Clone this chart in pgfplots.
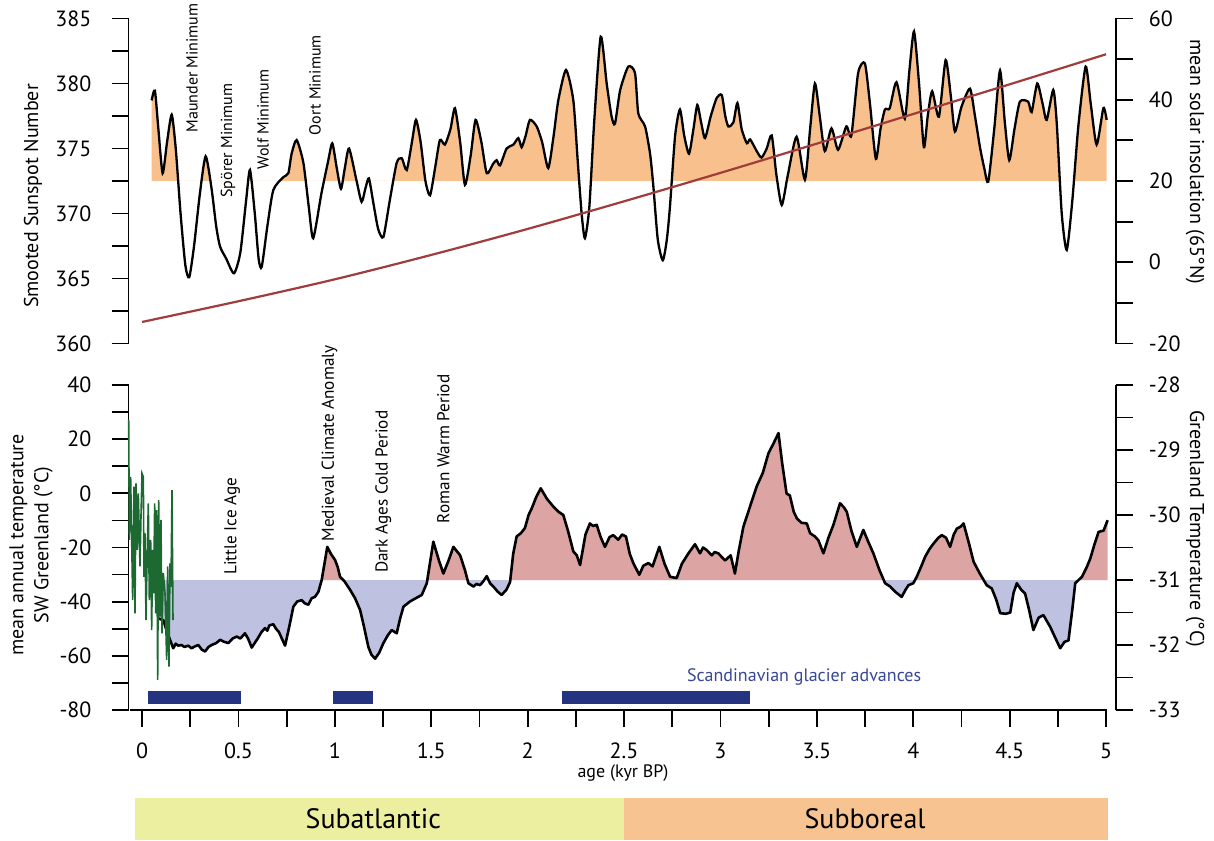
\documentclass[border=0pt]{standalone}
\usepackage{fontspec}
\setmainfont{PT Sans}
\usepackage{pgfplots}
\pgfplotsset{compat=1.18}
\usepackage{pgfplotstable}

\definecolor{orfill}{RGB}{248,192,140}
\definecolor{warm}{RGB}{221,164,164}
\definecolor{cold}{RGB}{190,194,224}
\definecolor{insol}{RGB}{160,60,60}
\definecolor{grn}{RGB}{28,105,50}
\definecolor{navy}{RGB}{36,52,128}
\definecolor{glactext}{RGB}{55,70,150}
\definecolor{subatl}{RGB}{237,239,160}
\definecolor{subbor}{RGB}{247,196,145}

\newcommand\fs[1]{\fontsize{#1}{#1}\selectfont}

\pgfplotstableread{
x y
0.050 378.7
0.067 379.45
0.085 376.5
0.107 373.1
0.130 375.5
0.154 377.6
0.175 375.0
0.200 370.0
0.225 366.0
0.245 365.1
0.270 367.5
0.300 371.5
0.330 374.4
0.360 372.0
0.385 369.0
0.405 367.45
0.436 366.55
0.477 365.4
0.510 367.0
0.540 371.0
0.560 373.35
0.585 370.0
0.605 366.5
0.621 365.9
0.650 369.0
0.681 371.8
0.733 372.8
0.759 373.1
0.776 374.6
0.802 375.65
0.837 373.9
0.865 370.5
0.888 368.1
0.930 371.5
0.965 374.0
0.987 375.4
1.010 373.5
1.032 371.9
1.052 373.5
1.074 375.0
1.113 372.5
1.139 370.9
1.160 372.0
1.177 372.7
1.200 370.8
1.225 368.8
1.252 368.2
1.285 371.0
1.321 373.9
1.347 374.25
1.373 373.35
1.400 375.5
1.421 377.2
1.445 375.5
1.470 372.5
1.494 371.4
1.520 373.5
1.545 375.65
1.571 375.3
1.600 376.5
1.623 378.1
1.650 375.5
1.675 372.2
1.705 374.5
1.730 377.2
1.760 375.5
1.788 373.1
1.820 373.8
1.839 374.1
1.857 373.7
1.891 375.0
1.926 375.3
1.952 375.8
1.969 375.1
1.990 376.0
2.012 377.2
2.047 376.7
2.075 375.5
2.107 373.5
2.135 376.0
2.159 378.7
2.199 381.04
2.237 378.7
2.260 374.0
2.280 370.0
2.297 368.1
2.320 370.5
2.345 377.0
2.379 383.6
2.410 380.0
2.435 377.5
2.453 376.9
2.480 379.5
2.522 381.3
2.557 380.8
2.574 377.7
2.609 376.7
2.635 374.6
2.652 372.1
2.675 368.0
2.701 366.4
2.722 368.0
2.738 370.5
2.765 376.0
2.790 378.0
2.812 376.0
2.837 374.6
2.860 376.5
2.880 378.35
2.900 377.0
2.920 375.8
2.950 377.5
2.981 378.9
3.007 379.1
3.025 377.5
3.041 376.7
3.067 377.0
3.088 378.5
3.110 376.5
3.137 375.4
3.154 375.7
3.188 374.8
3.213 374.3
3.240 375.0
3.266 376.0
3.290 373.0
3.318 370.65
3.350 373.0
3.395 375.9
3.438 372.6
3.465 376.5
3.490 380.0
3.515 377.5
3.541 374.8
3.576 376.55
3.610 374.9
3.653 376.7
3.679 376.0
3.714 380.8
3.749 381.55
3.775 378.5
3.806 374.2
3.830 376.5
3.853 378.0
3.878 378.1
3.913 380.1
3.956 377.3
3.980 381.0
4.004 384.0
4.030 380.0
4.055 375.1
4.075 377.5
4.098 379.4
4.133 377.45
4.168 381.8
4.195 379.0
4.216 376.3
4.250 378.2
4.294 379.6
4.320 377.5
4.346 375.1
4.368 373.5
4.389 372.45
4.420 376.5
4.450 381.0
4.475 377.0
4.498 374.1
4.525 376.5
4.553 378.6
4.596 378.6
4.614 377.8
4.643 380.0
4.670 378.5
4.692 377.2
4.726 379.5
4.744 377.0
4.770 370.0
4.796 367.2
4.825 371.0
4.856 376.7
4.894 381.3
4.920 378.5
4.951 375.3
4.986 378.1
5.003 377.2
}\sunspot

\pgfplotstableread{
x y
0.000 -14.7
0.500 -9.6
1.000 -4.2
1.500 1.8
2.000 8.2
2.500 15.0
3.000 22.0
3.500 29.2
4.000 36.5
4.500 43.8
5.000 51.2
}\insolation

\pgfplotstableread{
x y
0.085 -31.59
0.111 -31.62
0.130 -31.80
0.162 -32.05
0.175 -31.98
0.188 -32.01
0.205 -32.00
0.220 -32.03
0.240 -32.01
0.257 -32.05
0.275 -32.02
0.292 -32.00
0.310 -32.07
0.327 -32.10
0.345 -32.03
0.361 -32.00
0.385 -31.97
0.405 -31.92
0.425 -31.95
0.448 -31.97
0.470 -31.90
0.491 -31.87
0.510 -31.90
0.534 -31.82
0.550 -31.90
0.569 -32.04
0.600 -31.90
0.620 -31.80
0.638 -31.74
0.650 -31.78
0.660 -31.70
0.681 -31.68
0.695 -31.75
0.710 -31.80
0.742 -32.01
0.765 -31.70
0.785 -31.41
0.805 -31.33
0.828 -31.31
0.845 -31.36
0.863 -31.38
0.880 -31.28
0.897 -31.26
0.915 -31.18
0.932 -31.00
0.961 -30.49
0.980 -30.60
1.001 -30.69
1.015 -30.80
1.027 -30.95
1.050 -31.02
1.079 -31.15
1.105 -31.28
1.131 -31.46
1.150 -31.70
1.174 -32.03
1.190 -32.15
1.209 -32.21
1.230 -32.12
1.252 -31.97
1.275 -31.85
1.295 -31.77
1.321 -31.82
1.338 -31.60
1.356 -31.41
1.390 -31.33
1.420 -31.28
1.451 -31.23
1.477 -31.05
1.511 -30.41
1.540 -30.70
1.563 -30.90
1.590 -30.70
1.615 -30.49
1.650 -30.62
1.675 -30.85
1.693 -31.05
1.719 -31.10
1.735 -31.06
1.753 -31.08
1.770 -31.02
1.788 -30.94
1.805 -31.05
1.822 -31.10
1.845 -31.18
1.865 -31.23
1.890 -31.15
1.909 -31.03
1.925 -30.60
1.943 -30.33
1.965 -30.28
1.986 -30.20
2.005 -30.00
2.021 -29.90
2.045 -29.72
2.068 -29.59
2.100 -29.75
2.133 -29.87
2.160 -29.95
2.185 -30.00
2.210 -30.25
2.237 -30.56
2.255 -30.62
2.272 -30.77
2.300 -30.30
2.323 -30.13
2.340 -30.17
2.358 -30.15
2.380 -30.35
2.401 -30.49
2.425 -30.34
2.444 -30.31
2.470 -30.38
2.490 -30.30
2.510 -30.33
2.530 -30.60
2.548 -30.74
2.579 -30.92
2.600 -30.78
2.626 -30.74
2.648 -30.79
2.683 -30.49
2.710 -30.75
2.739 -30.95
2.773 -30.97
2.800 -30.75
2.834 -30.59
2.868 -30.45
2.894 -30.59
2.910 -30.50
2.929 -30.54
2.955 -30.62
2.970 -30.57
2.989 -30.59
3.024 -30.70
3.053 -30.62
3.075 -30.90
3.095 -30.55
3.119 -30.18
3.150 -29.90
3.188 -29.56
3.220 -29.35
3.249 -29.05
3.275 -28.90
3.301 -28.74
3.320 -29.20
3.343 -29.67
3.360 -29.70
3.380 -29.95
3.396 -30.05
3.420 -30.12
3.448 -30.13
3.465 -30.28
3.490 -30.33
3.508 -30.39
3.534 -30.59
3.560 -30.35
3.586 -30.15
3.620 -29.82
3.640 -29.88
3.655 -29.95
3.680 -30.25
3.707 -30.49
3.741 -30.23
3.765 -30.40
3.793 -30.59
3.825 -30.85
3.854 -31.05
3.880 -31.10
3.906 -31.18
3.940 -31.26
3.960 -31.15
3.975 -31.08
4.000 -31.05
4.018 -30.95
4.040 -30.80
4.062 -30.64
4.085 -30.52
4.105 -30.44
4.130 -30.35
4.148 -30.31
4.170 -30.35
4.191 -30.49
4.210 -30.30
4.226 -30.21
4.245 -30.18
4.261 -30.13
4.290 -30.45
4.313 -30.72
4.345 -30.90
4.381 -31.08
4.407 -31.13
4.430 -31.30
4.451 -31.51
4.480 -31.52
4.503 -31.50
4.520 -31.20
4.537 -31.05
4.560 -31.15
4.580 -31.21
4.600 -31.45
4.623 -31.77
4.650 -31.58
4.675 -31.54
4.710 -31.72
4.735 -31.88
4.762 -32.05
4.785 -31.95
4.805 -31.93
4.825 -31.45
4.840 -31.05
4.875 -30.95
4.900 -30.80
4.918 -30.67
4.940 -30.45
4.961 -30.26
4.987 -30.24
5.008 -30.08
}\greenland

\pgfplotstableread{
x y
-0.0690 27.1
-0.0657 -17.2
-0.0588 6.1
-0.0484 -39.4
-0.0415 2.5
-0.0363 -44.3
-0.0311 3.7
-0.0242 -20.9
-0.0190 0.0
-0.0104 -27.0
-0.0052 -8.6
0.0000 7.4
0.0069 6.1
0.0104 -30.8
0.0156 -14.8
0.0207 -46.8
0.0277 -19.7
0.0328 -3.7
0.0380 -39.4
0.0450 -17.2
0.0501 -50.5
0.0553 -20.9
0.0605 -36.9
0.0657 -3.7
0.0709 -44.3
0.0761 -6.2
0.0813 -68.9
0.0865 -2.5
0.0934 -45.5
0.0985 -9.8
0.1037 -51.7
0.1106 -29.5
0.1193 -36.9
0.1279 -61.5
0.1331 -27.0
0.1400 -64.0
0.1452 -25.9
0.1504 -34.5
0.1556 1.2
0.1608 -46.8
}\swgreen

\pgfplotsset{
  base/.style={
    scale only axis, width=493.6pt, height=162.5pt,
    xmin=-0.07, xmax=5.05, anchor=south west,
    tick align=outside,
    major tick length=8.5pt, minor tick length=8.5pt,
    every tick/.style={black, line width=0.9pt},
    axis line style={line width=0.9pt, -},
    tick label style={font=\fs{11}},
    /pgf/number format/assume math mode=true,
    clip=false,
  },
  lefty/.style={axis y line*=left, ytick pos=left, yticklabel pos=left,
    yticklabel style={xshift=-6.5pt}},
  righty/.style={axis y line*=right, ytick pos=right, yticklabel pos=right,
    yticklabel style={xshift=4.5pt}},
  helper/.style={
    scale only axis, width=493.6pt,
    xmin=-0.07, xmax=5.05, anchor=south west,
    hide axis, clip=true,
  },
}
\tikzset{
  ann/.style={rotate=90, anchor=west, inner sep=0pt, font=\fs{8.0}},
  annb/.style={rotate=90, anchor=west, inner sep=0pt, font=\fs{8.6}},
}

\begin{document}
\begin{tikzpicture}
\path[use as bounding box] (0pt,0pt) rectangle (607pt,-420pt);

% ---------- top panel: fill above 372.5 (clipped helper axis)
\begin{axis}[helper, at={(64.25pt,-90.5pt)}, height=81.25pt,
  ymin=372.5, ymax=385]
  \addplot[fill=orfill, draw=none, smooth, tension=0.4] table {\sunspot}
    -- (axis cs:5.003,372.5) -- (axis cs:0.050,372.5) -- cycle;
\end{axis}

% ---------- top panel, left axis (sunspots)
\begin{axis}[base, at={(64.25pt,-171.75pt)},
  ymin=360, ymax=385, ytick={360,365,...,385},
  minor ytick={362.5,367.5,...,382.5},
  hide x axis, lefty]
  \addplot[black, line width=1.15pt, smooth, tension=0.4] table {\sunspot};
  \node[ann] at (axis cs:0.259,376.2) {Maunder Minimum};
  \node[ann] at (axis cs:0.446,371.2) {Spörer Minimum};
  \node[ann] at (axis cs:0.628,373.35) {Wolf Minimum};
  \node[ann] at (axis cs:0.897,376.0) {Oort Minimum};
\end{axis}

% ---------- top panel, right axis (insolation)
\begin{axis}[base, at={(64.25pt,-171.75pt)},
  ymin=-20, ymax=60, ytick={-20,0,...,60},
  minor ytick={-10,10,...,50},
  hide x axis, righty]
  \addplot[insol, line width=1.1pt, smooth] table {\insolation};
\end{axis}

% ---------- bottom panel fills (clipped helper axes)
\begin{axis}[helper, at={(64.25pt,-290pt)}, height=97.5pt,
  ymin=-31, ymax=-28]
  \addplot[fill=warm, draw=none] table {\greenland}
    -- (axis cs:5.008,-31) -- (axis cs:0.085,-31) -- cycle;
\end{axis}
\begin{axis}[helper, at={(64.25pt,-355pt)}, height=65pt,
  ymin=-33, ymax=-31]
  \addplot[fill=cold, draw=none] table {\greenland}
    -- (axis cs:5.008,-31) -- (axis cs:0.085,-31) -- cycle;
\end{axis}

% ---------- bottom panel, right axis (Greenland temperature)
\begin{axis}[base, at={(64.25pt,-355pt)},
  ymin=-33, ymax=-28, ytick={-33,-32,-31,-30,-29,-28},
  minor ytick={-32.5,-31.5,-30.5,-29.5,-28.5},
  hide x axis, righty]
  \addplot[black, line width=1.3pt, line join=round] table {\greenland};
\end{axis}

% ---------- bottom panel, left axis (SW Greenland) + x axis
\begin{axis}[base, at={(64.25pt,-355pt)},
  ymin=-80, ymax=40, ytick={-80,-60,...,40},
  minor ytick={-70,-50,...,30},
  lefty,
  axis x line*=bottom, xtick pos=lower, xticklabel pos=lower,
  x axis line style={draw=none},
  xticklabel style={yshift=-4.5pt},
  xtick={0,0.5,1,1.5,2,2.5,3,3.5,4,4.5,5},
  xticklabels={0,0.5,1,1.5,2,2.5,3,3.5,4,4.5,5},
  minor xtick={0.25,0.75,1.25,1.75,2.25,2.75,3.25,3.75,4.25,4.75}]
  \draw[line width=0.9pt] (axis cs:-0.062,-80) -- (axis cs:5.005,-80);
  \addplot[grn, line width=0.8pt] table {\swgreen};
  \addplot[navy, line width=6.5pt] coordinates {(0.031,-75.4) (0.513,-75.4)};
  \addplot[navy, line width=6.5pt] coordinates {(0.991,-75.4) (1.198,-75.4)};
  \addplot[navy, line width=6.5pt] coordinates {(2.178,-75.4) (3.154,-75.4)};
  \node[anchor=west, text=glactext, font=\fs{9}] at (axis cs:2.79,-67.8) {Scandinavian glacier advances};
  \node[annb] at (axis cs:0.467,-30.2) {Little Ice Age};
  \node[annb] at (axis cs:0.972,-17.9) {Medieval Climate Anomaly};
  \node[annb] at (axis cs:1.252,-29.5) {Dark Ages Cold Period};
  \node[annb] at (axis cs:1.563,-11.1) {Roman Warm Period};
  % epoch band
  \addplot[subatl, line width=21pt] coordinates {(-0.036,-120.25) (2.5,-120.25)};
  \addplot[subbor, line width=21pt] coordinates {(2.5,-120.25) (5.01,-120.25)};
  \node[font=\fs{14}] at (axis cs:1.20,-120.25) {Subatlantic};
  \node[font=\fs{14}] at (axis cs:3.75,-120.25) {Subboreal};
\end{axis}

% axis titles
\node[rotate=90, font=\fs{10}] at (16.5pt,-98pt) {Smooted Sunspot Number};
\node[rotate=-90, font=\fs{10}] at (597.5pt,-81pt) {mean solar insolation (65°N)};
\node[rotate=90, font=\fs{10}, align=center] at (15.5pt,-272.5pt) {mean annual temperature\\[2.5pt]SW Greenland (°C)};
\node[rotate=-90, font=\fs{10}] at (597.5pt,-264.5pt) {Greenland Temperature (°C)};
\node[font=\fs{9}] at (311.5pt,-386.5pt) {age (kyr BP)};
\end{tikzpicture}
\end{document}
